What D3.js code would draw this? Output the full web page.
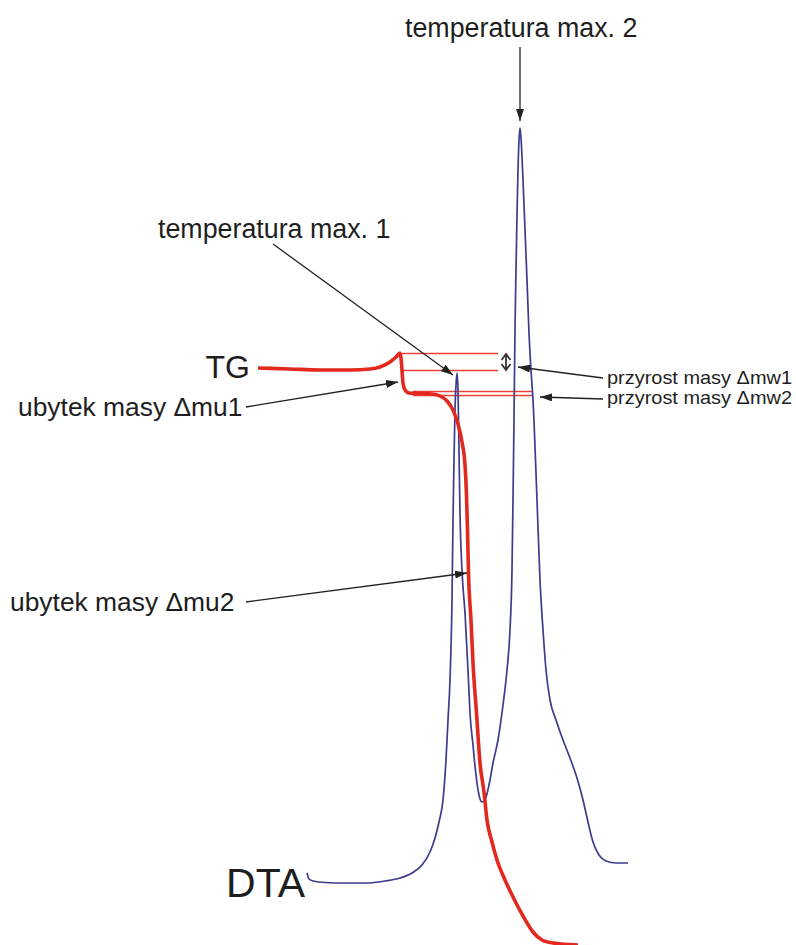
<!DOCTYPE html>
<html>
<head>
<meta charset="utf-8">
<script src="https://cdn.jsdelivr.net/npm/d3@7"></script>
<style>
  html, body { margin: 0; padding: 0; background: #ffffff; }
  svg { display: block; }
  text { font-family: "Liberation Sans", Arial, Helvetica, sans-serif; fill: #1e1e1e; }
</style>
</head>
<body>
<svg id="chart" width="796" height="945"></svg>
<script>
// DTA signal (µV) against temperature (°C)
const dtaTemp = [198, 202, 210, 234, 274, 318, 354, 384, 408, 428, 444, 454, 462, 470, 476, 480, 484, 488, 490, 492,
  494, 496, 498, 500, 502, 504, 508, 514, 520, 524, 530, 536, 542, 548, 554, 562, 570, 580, 590, 598,
  604, 608, 610, 612, 614, 616, 618, 620, 622, 624, 626, 630, 634, 638, 642, 646, 650, 658, 664, 670,
  676, 684, 696, 710, 724, 738, 750, 760, 770, 782, 796, 816, 840];
const dtaSignal = [2.0, 0.8, 0.4, 0.1, 0.0, 0.0, 0.4, 1.0, 2.0, 3.6, 6.2, 9.0, 12.2, 16.6, 24.6, 32.6, 40.6, 56.6, 72.6, 84.6,
  94.6, 99.6, 102.0, 98.6, 86.6, 74.0, 62.6, 54.0, 42.6, 34.0, 27.6, 21.6, 17.6, 16.2, 16.6, 19.6, 24.0, 28.6, 35.6, 42.6,
  50.6, 62.6, 76.6, 92.6, 110.6, 122.6, 133.6, 142.6, 148.6, 151.0, 149.0, 140.6, 130.6, 120.6, 110.0, 102.6, 96.6, 76.6, 60.6, 50.6,
  42.6, 36.6, 32.6, 28.6, 25.0, 21.0, 16.6, 12.2, 8.2, 5.6, 4.4, 4.0, 4.0];

// TG mass (%) against temperature (°C)
const tgTemp = [100, 164, 224, 284, 324, 344, 364, 376, 384, 386, 388, 390, 394, 402, 424, 448, 464, 478, 490, 500,
  508, 514, 517, 519, 521, 526, 530, 537, 544, 552, 558, 568, 578, 594, 610, 630, 650, 668, 690, 740];
const tgMass = [100.0, 99.9, 99.8, 99.8, 99.9, 100.1, 100.6, 101.1, 101.5, 101.0, 99.8, 98.5, 97.8, 97.5, 97.45, 97.4, 97.2, 96.7, 95.8, 94.4,
  92.6, 90.3, 87.3, 83.8, 79.5, 74.8, 70.5, 65.5, 60.5, 57.6, 54.8, 52.6, 50.8, 48.8, 47.1, 45.2, 43.6, 42.8, 42.5, 42.3];

// Mass levels marked with thin guide lines (mass %, start and end temperature)
const refMass = [101.5, 99.8, 97.7, 97.3];
const refFrom = [388, 388, 410, 410];
const refTo = [580, 580, 650, 650];

// Mass gain bracket between the two upper guide levels
const gainTemp = 596;
const gainMass = [101.4, 99.8];

// Curve names and annotation texts
const seriesNames = ["TG", "DTA"];
const noteTexts = ["temperatura max. 2", "temperatura max. 1", "ubytek masy \u0394mu1", "ubytek masy \u0394mu2",
  "przyrost masy \u0394mw1", "przyrost masy \u0394mw2"];

const svg = d3.select("#chart");

const x = d3.scaleLinear().domain([100, 840]).range([258, 628]);
const yDta = d3.scaleLinear().domain([0, 151]).range([883, 128]);
const yTg = d3.scaleLinear().domain([100, 42.3]).range([368, 945]);

const dta = dtaTemp.map((t, i) => [t, dtaSignal[i]]);
const tg = tgTemp.map((t, i) => [t, tgMass[i]]);

// arrowhead marker
svg.append("defs").append("marker")
  .attr("id", "head")
  .attr("markerUnits", "userSpaceOnUse")
  .attr("markerWidth", 12).attr("markerHeight", 8)
  .attr("refX", 12).attr("refY", 4)
  .attr("orient", "auto")
  .append("path")
  .attr("d", "M0,0 L12,4 L0,8 Z")
  .attr("fill", "#222");

// guide lines
const guides = svg.append("g").attr("class", "guides");
refMass.forEach((m, i) => {
  const gy = Math.round(yTg(m)) + 0.5;
  guides.append("line")
    .attr("x1", x(refFrom[i])).attr("x2", x(refTo[i]))
    .attr("y1", gy).attr("y2", gy)
    .attr("stroke", "#ee4038").attr("stroke-width", 1.3);
});

// DTA curve
svg.append("path")
  .datum(dta)
  .attr("fill", "none")
  .attr("stroke", "#3c3c8e")
  .attr("stroke-width", 1.7)
  .attr("d", d3.line().x(d => x(d[0])).y(d => yDta(d[1])).curve(d3.curveMonotoneX));

// TG curve
svg.append("path")
  .datum(tg)
  .attr("fill", "none")
  .attr("stroke", "#e3291f")
  .attr("stroke-width", 3.6)
  .attr("stroke-linejoin", "round")
  .attr("d", d3.line().x(d => x(d[0])).y(d => yTg(d[1])).curve(d3.curveMonotoneX));

// mass gain bracket (double open arrow)
{
  const gx = x(gainTemp), g1 = yTg(gainMass[0]), g2 = yTg(gainMass[1]);
  svg.append("path")
    .attr("d", `M${gx},${g1} L${gx},${g2} M${gx - 4.5},${g1 + 6} L${gx},${g1} L${gx + 4.5},${g1 + 6} M${gx - 4.5},${g2 - 6} L${gx},${g2} L${gx + 4.5},${g2 - 6}`)
    .attr("fill", "none").attr("stroke", "#333").attr("stroke-width", 1.8);
}

// series labels
svg.append("text").attr("x", 250).attr("y", 378).attr("text-anchor", "end")
  .attr("font-size", 32).text(seriesNames[0]);
svg.append("text").attr("x", 305).attr("y", 897).attr("text-anchor", "end")
  .attr("font-size", 41).text(seriesNames[1]);

// annotation arrows: start point, tip
const iMax2 = dtaSignal.indexOf(d3.max(dtaSignal));
const iMax1 = dtaSignal.indexOf(102.0);
const iLoss1 = tgMass.indexOf(98.5);
const iLoss2 = tgMass.indexOf(79.5);
const notes = [
  { text: noteTexts[0], tx: 405, ty: 37, size: 26.8, from: [x(dtaTemp[iMax2]), 47], to: [x(dtaTemp[iMax2]), yDta(dtaSignal[iMax2]) - 7] },
  { text: noteTexts[1], tx: 158, ty: 238, size: 26.8, from: [273, 244], to: [x(dtaTemp[iMax1]) - 4, yDta(dtaSignal[iMax1]) + 2] },
  { text: noteTexts[2], tx: 18, ty: 416, size: 26.4, from: [246, 407], to: [x(tgTemp[iLoss1]) - 5, yTg(tgMass[iLoss1]) - 1] },
  { text: noteTexts[3], tx: 10, ty: 611, size: 26.4, from: [246, 602], to: [x(tgTemp[iLoss2]) - 1.5, yTg(tgMass[iLoss2])] },
  { text: noteTexts[4], tx: 607, ty: 384, size: 18.5, len: 185, from: [603, 378], to: [x(gainTemp) + 12, yTg(100.1)] },
  { text: noteTexts[5], tx: 607, ty: 404, size: 18.5, len: 185, from: [603, 399], to: [x(refTo[3]) + 7, yTg(97.1)] }
];

const ann = svg.append("g").attr("class", "notes");
notes.forEach(n => {
  ann.append("line")
    .attr("x1", n.from[0]).attr("y1", n.from[1])
    .attr("x2", n.to[0]).attr("y2", n.to[1])
    .attr("stroke", "#222").attr("stroke-width", 1.3)
    .attr("marker-end", "url(#head)");
  const t = ann.append("text")
    .attr("x", n.tx).attr("y", n.ty)
    .attr("font-size", n.size)
    .text(n.text);
  if (n.len) t.attr("textLength", n.len).attr("lengthAdjust", "spacingAndGlyphs");
});
</script>
</body>
</html>
